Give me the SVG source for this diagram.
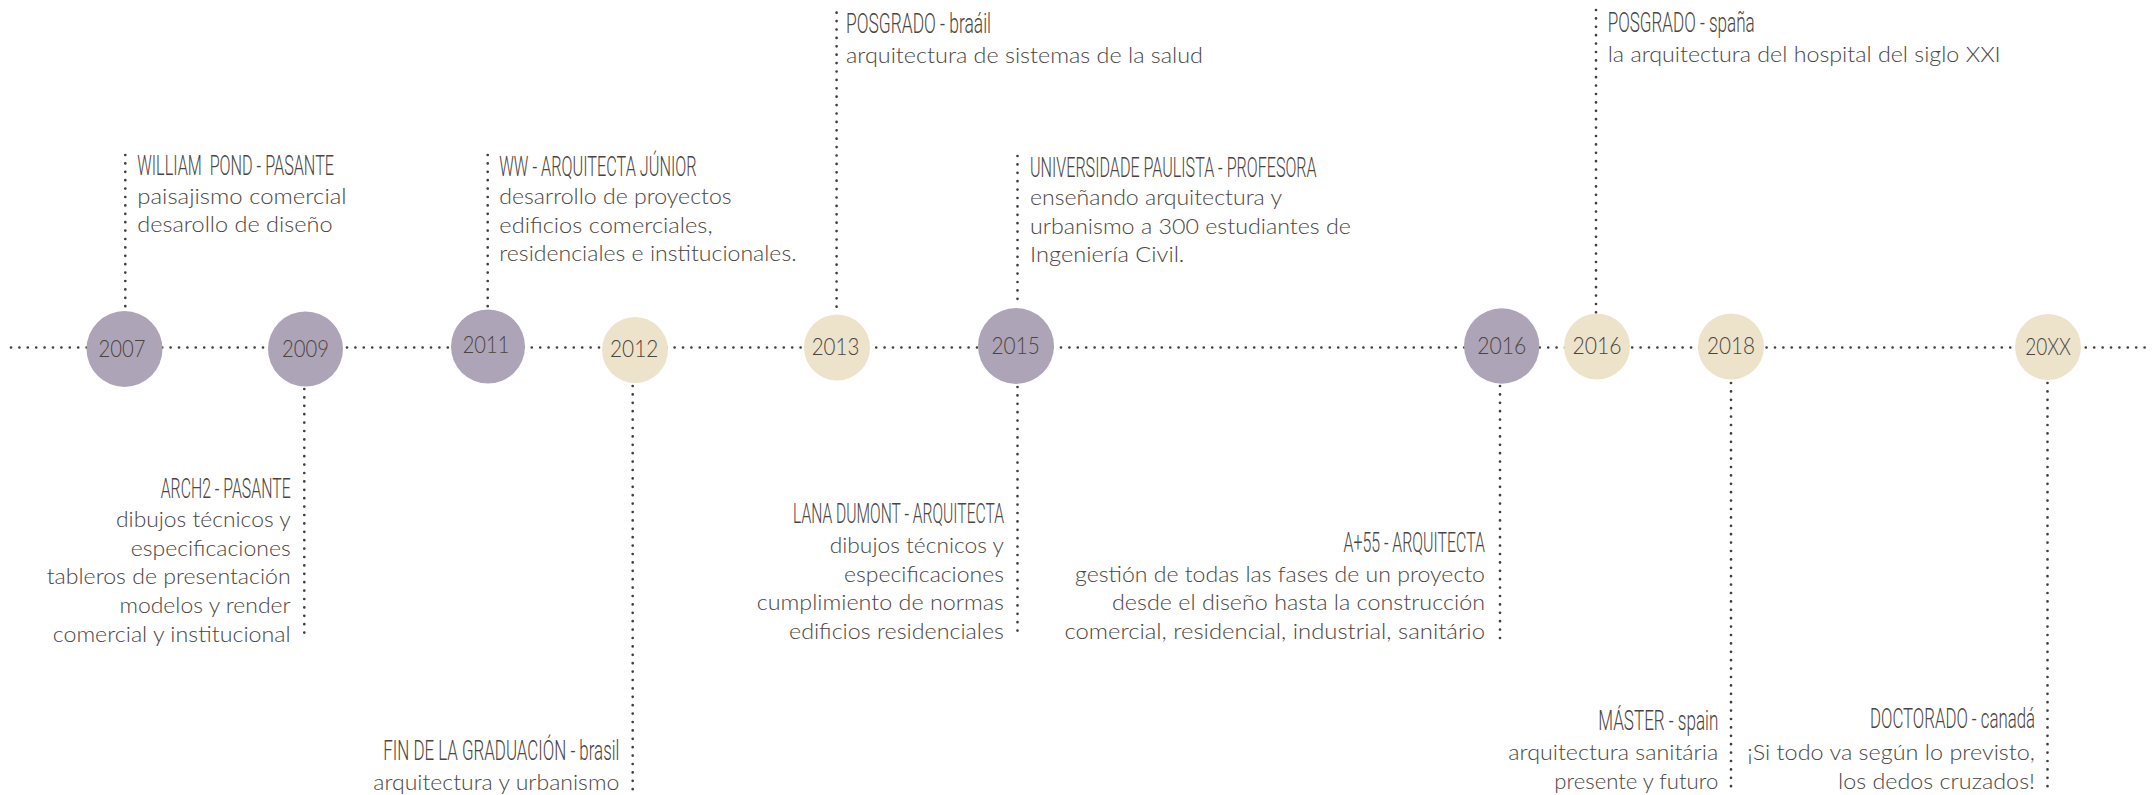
<svg xmlns="http://www.w3.org/2000/svg" width="2152" height="795" viewBox="0 0 2152 795">
<style>
.dot{fill:none;stroke:#433e3b;stroke-width:2.7;stroke-linecap:round;stroke-dasharray:0 8.4}
.p{fill:#aea4b7}
.c{fill:#ede3cb}
.y{font-family:Lato,"Noto Sans","Liberation Sans",sans-serif;font-weight:300;font-size:23px;fill:#4b4541}
.h{font-family:Roboto,"Liberation Sans",sans-serif;font-weight:300;font-size:27px;fill:#4b4541}
.b{font-family:Lato,"Noto Sans","Liberation Sans",sans-serif;font-weight:300;font-size:21px;fill:#4b4541}
</style>
<rect width="2152" height="795" fill="#ffffff"/>
<g id="connectors">
<line class="dot" x1="11" y1="347.5" x2="2152" y2="347.5"/>
<line class="dot" x1="125.3" y1="155" x2="125.3" y2="310"/>
<line class="dot" x1="304.3" y1="389" x2="304.3" y2="638"/>
<line class="dot" x1="487.7" y1="155" x2="487.7" y2="309"/>
<line class="dot" x1="632.7" y1="386" x2="632.7" y2="790"/>
<line class="dot" x1="836.6" y1="12.7" x2="836.6" y2="314"/>
<line class="dot" x1="1017.5" y1="156" x2="1017.5" y2="304"/>
<line class="dot" x1="1017.5" y1="387" x2="1017.5" y2="638"/>
<line class="dot" x1="1500" y1="386" x2="1500" y2="638"/>
<line class="dot" x1="1596" y1="10" x2="1596" y2="313"/>
<line class="dot" x1="1731" y1="383" x2="1731" y2="790"/>
<line class="dot" x1="2047.5" y1="383" x2="2047.5" y2="790"/>
</g>
<g id="n2007">
<circle class="p" cx="124.5" cy="349" r="38"/>
<text class="y" x="98.5" y="356.5" textLength="47" lengthAdjust="spacingAndGlyphs">2007</text>
<text class="h" x="137.3" y="175" textLength="196.7" lengthAdjust="spacingAndGlyphs" xml:space="preserve">WILLIAM  POND - PASANTE</text>
<text class="b" x="137.3" y="203.5" textLength="209.3" lengthAdjust="spacingAndGlyphs">paisajismo comercial</text>
<text class="b" x="137.3" y="232" textLength="195.3" lengthAdjust="spacingAndGlyphs">desarollo de diseño</text>
</g>
<g id="n2009">
<circle class="p" cx="305.5" cy="349" r="37.5"/>
<text class="y" x="282" y="356.5" textLength="47" lengthAdjust="spacingAndGlyphs">2009</text>
<text class="h" x="160.7" y="498.3" textLength="130" lengthAdjust="spacingAndGlyphs">ARCH2 - PASANTE</text>
<text class="b" x="116" y="526.7" textLength="174.7" lengthAdjust="spacingAndGlyphs">dibujos técnicos y</text>
<text class="b" x="130.7" y="555.5" textLength="160" lengthAdjust="spacingAndGlyphs">especificaciones</text>
<text class="b" x="46.7" y="584.2" textLength="244" lengthAdjust="spacingAndGlyphs">tableros de presentación</text>
<text class="b" x="119.4" y="613" textLength="171.3" lengthAdjust="spacingAndGlyphs">modelos y render</text>
<text class="b" x="52.7" y="642" textLength="238" lengthAdjust="spacingAndGlyphs">comercial y institucional</text>
</g>
<g id="n2011">
<circle class="p" cx="488" cy="346.5" r="37"/>
<text class="y" x="462.7" y="353" textLength="46.6" lengthAdjust="spacingAndGlyphs">2011</text>
<text class="h" x="499.3" y="175.7" textLength="197.3" lengthAdjust="spacingAndGlyphs">WW - ARQUITECTA JÚNIOR</text>
<text class="b" x="499.3" y="204" textLength="232.3" lengthAdjust="spacingAndGlyphs">desarrollo de proyectos</text>
<text class="b" x="499.3" y="232.5" textLength="213.3" lengthAdjust="spacingAndGlyphs">edificios comerciales,</text>
<text class="b" x="499.3" y="261" textLength="297.3" lengthAdjust="spacingAndGlyphs">residenciales e institucionales.</text>
</g>
<g id="n2012">
<circle class="c" cx="635" cy="350" r="33"/>
<text class="y" x="610" y="357" textLength="48.3" lengthAdjust="spacingAndGlyphs">2012</text>
<text class="h" x="383.3" y="760" textLength="236" lengthAdjust="spacingAndGlyphs">FIN DE LA GRADUACIÓN - brasil</text>
<text class="b" x="373.3" y="789.5" textLength="246" lengthAdjust="spacingAndGlyphs">arquitectura y urbanismo</text>
</g>
<g id="n2013">
<circle class="c" cx="837" cy="347.5" r="33"/>
<text class="y" x="811.7" y="354.5" textLength="47.6" lengthAdjust="spacingAndGlyphs">2013</text>
<text class="h" x="846" y="33.3" textLength="145" lengthAdjust="spacingAndGlyphs">POSGRADO - braáil</text>
<text class="b" x="846" y="62.5" textLength="357" lengthAdjust="spacingAndGlyphs">arquitectura de sistemas de la salud</text>
</g>
<g id="n2015">
<circle class="p" cx="1016" cy="346" r="38"/>
<text class="y" x="991.5" y="353.5" textLength="48.3" lengthAdjust="spacingAndGlyphs">2015</text>
<text class="h" x="1030" y="176.7" textLength="286.6" lengthAdjust="spacingAndGlyphs">UNIVERSIDADE PAULISTA - PROFESORA</text>
<text class="b" x="1030" y="205" textLength="252" lengthAdjust="spacingAndGlyphs">enseñando arquitectura y</text>
<text class="b" x="1030" y="233.5" textLength="321" lengthAdjust="spacingAndGlyphs">urbanismo a 300 estudiantes de</text>
<text class="b" x="1030" y="262" textLength="154.4" lengthAdjust="spacingAndGlyphs">Ingeniería Civil.</text>
<text class="h" x="793" y="523" textLength="211" lengthAdjust="spacingAndGlyphs">LANA DUMONT - ARQUITECTA</text>
<text class="b" x="829.7" y="553" textLength="174.3" lengthAdjust="spacingAndGlyphs">dibujos técnicos y</text>
<text class="b" x="844" y="581.7" textLength="160" lengthAdjust="spacingAndGlyphs">especificaciones</text>
<text class="b" x="756.7" y="610" textLength="247.3" lengthAdjust="spacingAndGlyphs">cumplimiento de normas</text>
<text class="b" x="789" y="638.5" textLength="215" lengthAdjust="spacingAndGlyphs">edificios residenciales</text>
</g>
<g id="n2016a">
<circle class="p" cx="1501.7" cy="346" r="37.7"/>
<text class="y" x="1477.2" y="353.5" textLength="49" lengthAdjust="spacingAndGlyphs">2016</text>
<text class="h" x="1343.5" y="551.7" textLength="141.5" lengthAdjust="spacingAndGlyphs">A+55 - ARQUITECTA</text>
<text class="b" x="1075" y="581.7" textLength="410" lengthAdjust="spacingAndGlyphs">gestión de todas las fases de un proyecto</text>
<text class="b" x="1112" y="610" textLength="373" lengthAdjust="spacingAndGlyphs">desde el diseño hasta la construcción</text>
<text class="b" x="1064.4" y="638.5" textLength="420.6" lengthAdjust="spacingAndGlyphs">comercial, residencial, industrial, sanitário</text>
</g>
<g id="n2016b">
<circle class="c" cx="1597" cy="346.5" r="33"/>
<text class="y" x="1572.5" y="354" textLength="49" lengthAdjust="spacingAndGlyphs">2016</text>
<text class="h" x="1607.7" y="32.3" textLength="147" lengthAdjust="spacingAndGlyphs">POSGRADO - spaña</text>
<text class="b" x="1607.7" y="61.7" textLength="393" lengthAdjust="spacingAndGlyphs">la arquitectura del hospital del siglo XXI</text>
</g>
<g id="n2018">
<circle class="c" cx="1731" cy="346.5" r="33"/>
<text class="y" x="1707" y="354" textLength="48" lengthAdjust="spacingAndGlyphs">2018</text>
<text class="h" x="1598.3" y="730" textLength="120" lengthAdjust="spacingAndGlyphs">MÁSTER - spain</text>
<text class="b" x="1508.3" y="760" textLength="210" lengthAdjust="spacingAndGlyphs">arquitectura sanitária</text>
<text class="b" x="1554.3" y="789" textLength="164" lengthAdjust="spacingAndGlyphs">presente y futuro</text>
</g>
<g id="n20XX">
<circle class="c" cx="2048" cy="347" r="33"/>
<text class="y" x="2025.2" y="354.5" textLength="45.7" lengthAdjust="spacingAndGlyphs">20XX</text>
<text class="h" x="1870" y="727.7" textLength="165" lengthAdjust="spacingAndGlyphs">DOCTORADO - canadá</text>
<text class="b" x="1747.3" y="760" textLength="287.7" lengthAdjust="spacingAndGlyphs">¡Si todo va según lo previsto,</text>
<text class="b" x="1838" y="789" textLength="197" lengthAdjust="spacingAndGlyphs">los dedos cruzados!</text>
</g>
</svg>
